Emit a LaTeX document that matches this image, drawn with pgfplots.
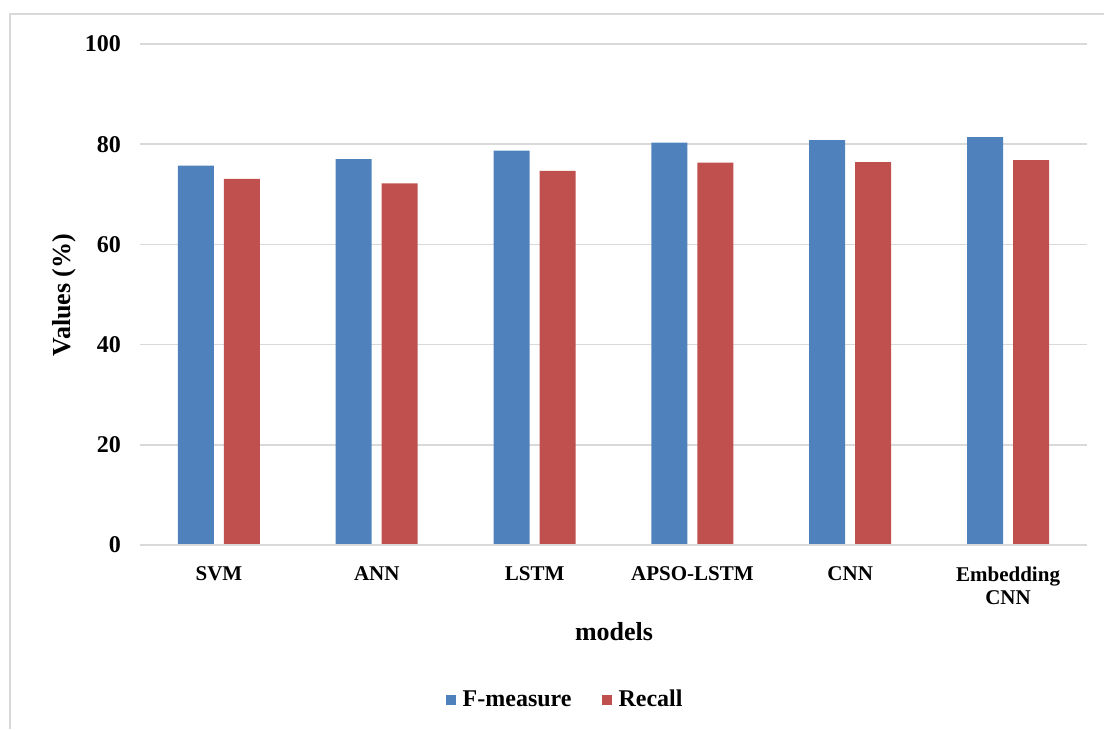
\documentclass[border=0pt]{standalone}
\usepackage{pgfplots}
\pgfplotsset{compat=1.18}
\usepackage{fontspec}
\setmainfont{Liberation Serif}
\definecolor{fblue}{HTML}{4F81BD}
\definecolor{rred}{HTML}{C0504D}
\definecolor{gridgray}{HTML}{D9D9D9}
\begin{document}
\begin{tikzpicture}[x=0.5pt,y=0.5pt]
% canvas and outer frame
\path[use as bounding box] (0,0) rectangle (1104,729);
\draw[gridgray, line width=1.2pt] (10,0) -- (10,715) -- (1104,715);
\begin{axis}[
  at={(70pt,92pt)}, anchor=south west,
  scale only axis, width=473.5pt, height=250.5pt,
  ybar=5pt, bar width=18pt,
  xmin=-0.5, xmax=5.5, ymin=0, ymax=100,
  ytick={0,20,40,60,80,100},
  xtick={0,1,2,3,4,5},
  xticklabels={SVM,ANN,LSTM,APSO-LSTM,CNN,{Embedding\\CNN}},
  xticklabel style={align=center, font=\fontsize{10.5}{11.5}\selectfont\bfseries, yshift=-7.5pt},
  yticklabel style={font=\fontsize{12}{14}\selectfont\bfseries, xshift=-6pt},
  /pgf/number format/assume math mode=true,
  axis line style={draw=none},
  major tick length=0pt,
  ymajorgrids, grid style={gridgray, line width=0.8pt},
  clip=false,
  legend style={at={(0.45,-0.309)}, anchor=center, draw=none,
    legend columns=2, font=\fontsize{12}{14}\selectfont\bfseries,
    /tikz/every even column/.append style={column sep=13pt}},
  legend image code/.code={\fill[#1] (0pt,-2.5pt) rectangle (5pt,2.5pt); \path (6.5pt,0pt);},
]
\addplot[fill=fblue, draw=none] coordinates {(0,75.7) (1,77.0) (2,78.7) (3,80.3) (4,80.8) (5,81.4)};
\addplot[fill=rred, draw=none] coordinates {(0,73.1) (1,72.2) (2,74.7) (3,76.3) (4,76.4) (5,76.8)};
\draw[gridgray, line width=0.8pt] (axis cs:-0.5,0) -- (axis cs:5.5,0);
\legend{F-measure,Recall}
\end{axis}
\node[rotate=90, font=\fontsize{13}{15}\selectfont\bfseries] at (64,434) {Values (\%)};
\node[anchor=base, font=\fontsize{13}{15}\selectfont\bfseries] at (614,89) {models};
\end{tikzpicture}
\end{document}
